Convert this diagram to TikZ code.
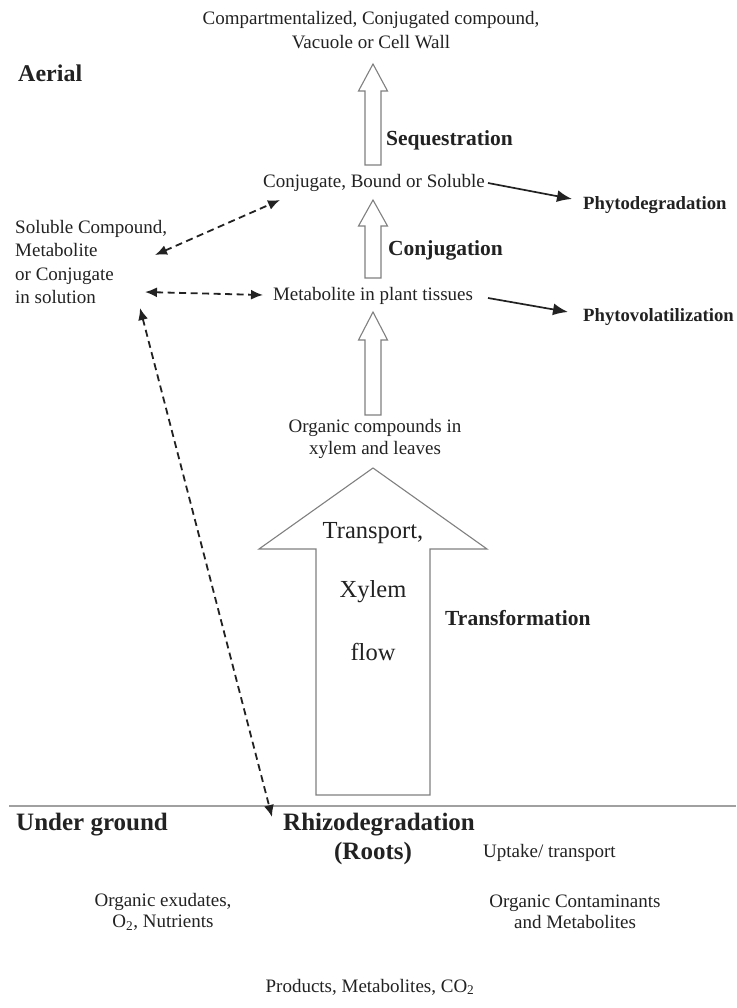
\documentclass[tikz,border=0pt]{standalone}
\usepackage{fontspec}
\setmainfont{Liberation Serif}
\usetikzlibrary{arrows.meta}
\definecolor{ink}{HTML}{222222}
\definecolor{edge}{HTML}{808080}
\definecolor{ground}{HTML}{A0A0A0}
\newcommand\uparrowshape[6]{% x, ytip, ybase, ybottom, halfhead, halfshaft
  \draw[block] ({#1-#6},#4) -- ({#1-#6},#3) -- ({#1-#5},#3) -- (#1,#2) -- ({#1+#5},#3) -- ({#1+#6},#3) -- ({#1+#6},#4) -- cycle;}
\begin{document}
\begin{tikzpicture}[x=1pt,y=-1pt,
  lbl/.style={inner sep=0pt, font=\fontsize{19}{23.5}\selectfont, text=ink, align=center},
  bhead/.style={inner sep=0pt, font=\fontsize{21.5}{26}\selectfont\bfseries, text=ink},
  bsmall/.style={inner sep=0pt, font=\fontsize{18.7}{22}\selectfont\bfseries, text=ink},
  bbig/.style={inner sep=0pt, font=\fontsize{25}{30}\selectfont\bfseries, text=ink},
  bigtxt/.style={inner sep=0pt, font=\fontsize{24.5}{29}\selectfont, text=ink},
  block/.style={draw=edge, line width=1.1pt, fill=white, line join=miter},
  solidarr/.style={draw=ink, line width=1.7pt, -{Latex[length=15pt,width=12pt]}},
  dasharr/.style={draw=ink, line width=1.8pt, dash pattern=on 7pt off 4.5pt, {Latex[length=12pt,width=10pt]}-{Latex[length=12pt,width=10pt]}}
]
\useasboundingbox (0,0) rectangle (736,1008);
\fill[white] (0,0) rectangle (736,1008);

% block arrows
\uparrowshape{373}{64}{91}{165}{14.5}{8}
\uparrowshape{373}{200}{226}{278}{14.5}{8}
\uparrowshape{373}{312}{340}{415}{14.5}{8}
\uparrowshape{373}{468}{549}{795}{114}{57}

% ground line
\draw[ground, line width=2.5pt] (9,806) -- (736,806);

% texts
\node[lbl] (title) at (371,30) {Compartmentalized, Conjugated compound,\\Vacuole or Cell Wall};
\node[inner sep=0pt, font=\fontsize{24}{28}\selectfont\bfseries, text=ink, anchor=west] (aerial) at (18,73) {Aerial};
\node[bhead, anchor=west] (seq) at (386,140) {Sequestration};
\node[lbl] (conj) at (374,183) {Conjugate, Bound or Soluble};
\node[bsmall, anchor=west] (phytodeg) at (583,205) {Phytodegradation};
\node[lbl, align=left, anchor=west, font=\fontsize{19}{23.3}\selectfont] (sol) at (15,262) {Soluble Compound,\\Metabolite\\or Conjugate\\in solution};
\node[bhead, anchor=west] (conjtxt) at (388,250) {Conjugation};
\node[lbl] (metab) at (373,296) {Metabolite in plant tissues};
\node[bsmall, anchor=west] (phytovol) at (583,317) {Phytovolatilization};
\node[lbl, font=\fontsize{19}{22.5}\selectfont] (organic) at (375,439) {Organic compounds in\\xylem and leaves};
\node[bigtxt] (transport) at (373,533) {Transport,};
\node[bigtxt] (xylem) at (373,592) {Xylem};
\node[bigtxt] (flow) at (373,652) {flow};
\node[bhead, anchor=west] (transf) at (445,618) {Transformation};
\node[bbig, anchor=west] (under) at (16,825) {Under ground};
\node[bbig, anchor=west] (rhizo) at (283,825) {Rhizodegradation};
\node[bbig] (roots) at (373,853) {(Roots)};
\node[lbl, anchor=west] (uptake) at (483,853) {Uptake/ transport};
\node[lbl, font=\fontsize{19}{21}\selectfont] (exud) at (163,912) {Organic exudates,\\O\textsubscript{2}, Nutrients};
\node[lbl, font=\fontsize{19}{21}\selectfont] (contam) at (575,912) {Organic Contaminants\\and Metabolites};
\node[lbl] (products) at (370,987) {Products, Metabolites, CO\textsubscript{2}};

% connector end points
\coordinate (d1a) at (155,255);
\coordinate (d1b) at (280,200);
\coordinate (d2a) at (145,292);
\coordinate (d2b) at (263,295);
\coordinate (d3a) at (140,308);
\coordinate (d3b) at (272,817);
\coordinate (s1a) at (488,183);
\coordinate (s1b) at (572,199);
\coordinate (s2a) at (488,298);
\coordinate (s2b) at (568,312);

\draw[dasharr] (d1a) -- (d1b);
\draw[dasharr] (d2a) -- (d2b);
\draw[dasharr] (d3a) -- (d3b);
\draw[solidarr] (s1a) -- (s1b);
\draw[solidarr] (s2a) -- (s2b);
\end{tikzpicture}
\end{document}
